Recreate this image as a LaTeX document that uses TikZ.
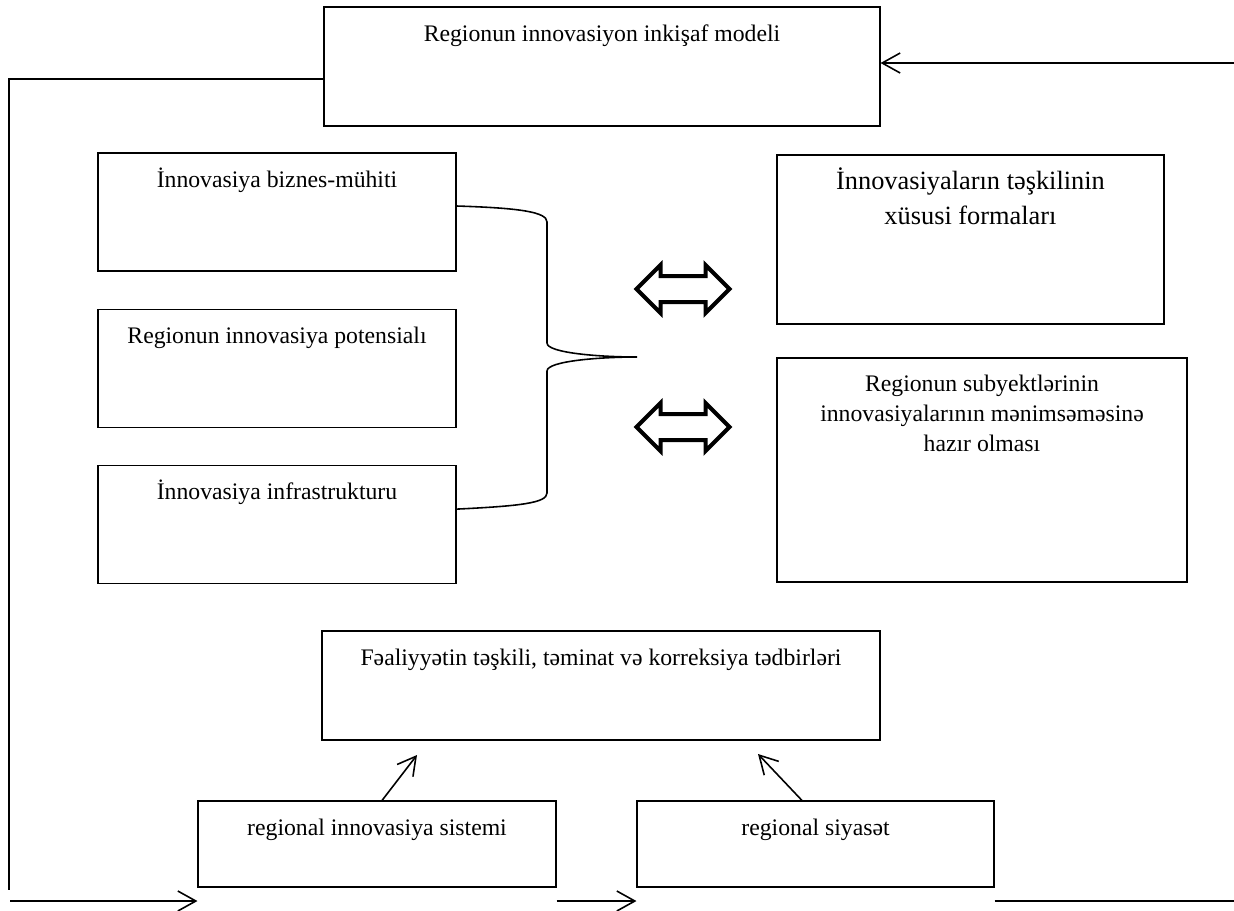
\documentclass[tikz,border=0pt]{standalone}
\usepackage{fontspec}
\setmainfont{Liberation Serif}
\usetikzlibrary{positioning,arrows.meta,shapes.arrows}

\begin{document}
\begin{tikzpicture}[x=0.2mm, y=-0.2mm,
          box/.style = {draw, line width=.6pt, inner sep=0pt},
          txt/.style = {anchor=base, yshift=-7mm, align=center, font=\fontsize{13.5}{17}\selectfont},
          big/.style = {txt, font=\fontsize{15}{20}\selectfont},
          link/.style = {line width=.9pt, -{Straight Barb[length=3.6mm, width=4mm]}},
          plain/.style = {line width=.9pt},
          both/.style = {draw, shape=double arrow, line width=.8mm, inner sep=0pt,
                         inner ysep=2.2mm, minimum height=18.6mm, double arrow head extend=2.2mm}]
        \useasboundingbox (0,0) rectangle (1234,910);

        % model on top, fed back round the left side
        \node[box, minimum width=111.2mm, minimum height=23.8mm,
              label={[txt]north:{Regionun innovasiyon inkişaf modeli}}] (model) at (602,66.5) {};

        % left column
        \node[box, minimum width=71.6mm, minimum height=23.6mm,
              label={[txt]north:{İnnovasiya biznes-mühiti}}] (env) at (277,212) {};
        \node[box, minimum width=71.6mm, minimum height=23.6mm,
              label={[txt]north:{Regionun innovasiya potensialı}}] (pot) [below=7.4mm of env] {};
        \node[box, minimum width=71.6mm, minimum height=23.6mm,
              label={[txt]north:{İnnovasiya infrastrukturu}}] (infra) [below=7.4mm of pot] {};

        % right column (base sits on the last line, so shift those further down)
        \node[box, minimum width=77.4mm, minimum height=33.8mm,
              label={[big, yshift=-7mm]north:{İnnovasiyaların təşkilinin\\xüsusi formaları}}] (forms) at (970.5,239.5) {};
        \node[box, minimum width=82mm, minimum height=44.8mm,
              label={[txt, yshift=-11.8mm]north:{Regionun subyektlərinin\\innovasiyalarının mənimsəməsinə\\hazır olması}}] (ready) at (982,470) {};

        % bottom row
        \node[box, minimum width=111.6mm, minimum height=21.8mm,
              label={[txt]north:{Fəaliyyətin təşkili, təminat və korreksiya tədbirləri}}] (plan) at (601,685.5) {};
        \node[box, minimum width=71.6mm, minimum height=17.2mm,
              label={[txt]north:{regional innovasiya sistemi}}] (sys) at (377,844) {};
        \node[box, minimum width=71.4mm, minimum height=17.2mm,
              label={[txt]north:{regional siyasət}}] (pol) at (815.5,844) {};

        \node[both] (swap1) at (683,289) {};
        \node[both] (swap2) at (683,427) {};

        % brace over the left column
        \draw[plain] ([yshift=1.2mm]env.east) .. controls (520,208) and (547,212) .. (547,222)
              -- (547,343) .. controls (547,353) and (600,357) .. (637,357)
              .. controls (600,357) and (547,361) .. (547,371)
              -- (547,493) .. controls (547,503) and (520,506) .. ([yshift=3mm]infra.east);

        \coordinate (fbTop) at (9,79);
        \coordinate (fbBot) at (9,890);
        \coordinate (inL) at (10,901);
        \coordinate (outR) at (1234,901);
        \coordinate (inR) at (1234,63);
        \coordinate (sysTip) at (417,755);
        \coordinate (polTip) at (758,754);

        \draw[plain] (model.west |- fbTop) -- (fbTop) -- (fbBot);
        \draw[link] (inL) -- (sys.west |- inL);
        \draw[link] (sys.east |- inL) -- (pol.west |- inL);
        \draw[plain] (pol.east |- outR) -- (outR);
        \draw[link] (inR) -- (model.east |- inR);
        \draw[link] ([xshift=1mm]sys.north) -- (sysTip);
        \draw[link] ([xshift=-2.7mm]pol.north) -- (polTip);
      \end{tikzpicture}
\end{document}
